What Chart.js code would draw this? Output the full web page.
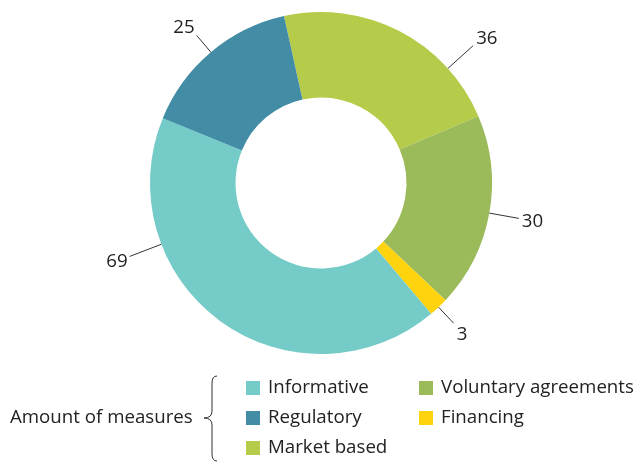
<!DOCTYPE html>
<html>
<head>
<meta charset="utf-8">
<script src="https://cdn.jsdelivr.net/npm/chart.js@4"></script>
<style>
  html, body { margin: 0; padding: 0; background: #fff; }
  #wrap { position: relative; width: 636px; height: 463px; }
</style>
</head>
<body>
<div id="wrap"><canvas id="donut" width="636" height="463"></canvas></div>
<script>
// data, in drawing order (clockwise from the top)
const categories = ['Market based', 'Voluntary agreements', 'Financing', 'Informative', 'Regulatory']
const measures = [36, 30, 3, 69, 25]
const colours = ['#b5cc4a', '#9bba5a', '#ffd30d', '#74cbc8', '#438ca6']
// legend order as in the reference
const legendOrder = ['Informative', 'Regulatory', 'Market based', 'Voluntary agreements', 'Financing']
const legendTitle = 'Amount of measures'

const FONT = '"Open Sans", sans-serif'
// where along each slice the leader line sits (0 = start, 1 = end)
const labelPos = [0.76, 0.5, 0.5, 0.716, 0.5]
const lineLen = [34, 30, 22, 34, 22]

const leaderLabels = {
    id: 'leaderLabels',
    afterDraw(chart) {
        const ctx = chart.ctx
        const meta = chart.getDatasetMeta(0)
        ctx.save()
        ctx.strokeStyle = '#333'
        ctx.lineWidth = 1
        ctx.fillStyle = '#222'
        ctx.font = '18.7px ' + FONT
        ctx.textBaseline = 'middle'
        meta.data.forEach((arc, i) => {
            const p = arc.getProps(['x', 'y', 'startAngle', 'endAngle', 'outerRadius'], true)
            const a = p.startAngle + (p.endAngle - p.startAngle) * labelPos[i]
            const r0 = p.outerRadius
            const r1 = r0 + lineLen[i]
            const cos = Math.cos(a), sin = Math.sin(a)
            const ex = p.x + cos * r1, ey = p.y + sin * r1
            ctx.beginPath()
            ctx.moveTo(p.x + cos * r0, p.y + sin * r0)
            ctx.lineTo(ex, ey)
            ctx.stroke()
            ctx.textAlign = cos >= 0 ? 'left' : 'right'
            ctx.fillText(String(measures[i]), ex + (cos >= 0 ? 3 : -2), ey + sin * (sin > 0 ? 16 : 10))
        })
        ctx.restore()
    }
}

const braceLegend = {
    id: 'braceLegend',
    afterDraw(chart) {
        const ctx = chart.ctx
        ctx.save()
        ctx.font = '18.7px ' + FONT
        ctx.fillStyle = '#222'
        ctx.textBaseline = 'middle'
        ctx.textAlign = 'left'
        ctx.fillText(legendTitle, 10, 418)

        // curly brace
        ctx.strokeStyle = '#333'
        ctx.lineWidth = 1
        const bx = 212, top = 376, mid = 418, bot = 461
        ctx.beginPath()
        ctx.moveTo(bx + 5, top)
        ctx.quadraticCurveTo(bx, top, bx, top + 7)
        ctx.lineTo(bx, mid - 7)
        ctx.quadraticCurveTo(bx, mid, bx - 8, mid)
        ctx.quadraticCurveTo(bx, mid, bx, mid + 7)
        ctx.lineTo(bx, bot - 7)
        ctx.quadraticCurveTo(bx, bot, bx + 5, bot)
        ctx.stroke()

        legendOrder.forEach((name, k) => {
            const i = categories.indexOf(name)
            const col = Math.floor(k / 3), row = k % 3
            const x = col ? 419 : 246
            const y = 388 + row * 30
            ctx.fillStyle = colours[i]
            ctx.fillRect(x, y - 7, 14, 14)
            ctx.fillStyle = '#222'
            ctx.fillText(name, x + 22, y)
        })
        ctx.restore()
    }
}

new Chart(document.getElementById('donut'), {
    type: 'doughnut',
    data: {
        labels: categories,
        datasets: [{
            data: measures,
            backgroundColor: colours,
            borderWidth: 0
        }]
    },
    options: {
        responsive: false,
        animation: false,
        rotation: -12.5,
        cutout: '50%',
        layout: { padding: { left: 150, right: 144, top: 12, bottom: 109 } },
        plugins: { legend: { display: false }, tooltip: { enabled: false } }
    },
    plugins: [leaderLabels, braceLegend]
})
</script>
</body>
</html>
